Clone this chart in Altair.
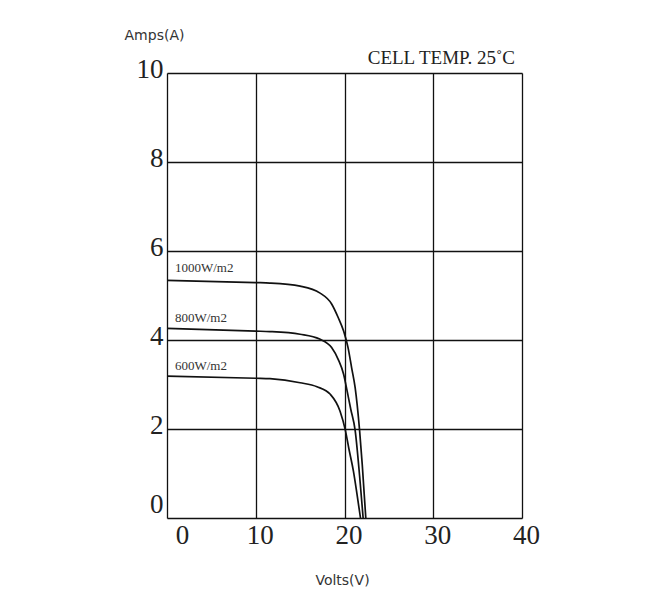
import altair as alt
import pandas as pd

# Curves (Volts, Amps)
v1000 = [0, 10, 11.6, 15.0, 17.2, 18.55, 19.3, 19.9, 20.4, 20.8, 21.2, 21.7, 22.0, 22.4]
i1000 = [5.34, 5.29, 5.28, 5.21, 5.06, 4.81, 4.50, 4.20, 3.83, 3.38, 2.93, 1.97, 1.20, 0]

v800 = [0, 10, 11.6, 15.0, 17.2, 18.55, 19.3, 19.9, 20.3, 20.7, 21.2, 21.7, 22.1]
i800 = [4.26, 4.20, 4.19, 4.13, 4.02, 3.83, 3.56, 3.23, 2.85, 2.45, 1.97, 0.95, 0]

v600 = [0, 10, 11.6, 15.0, 16.9, 18.4, 19.5, 20.1, 20.5, 21.0, 21.4, 21.8]
i600 = [3.19, 3.14, 3.13, 3.04, 2.95, 2.78, 2.40, 1.97, 1.55, 1.06, 0.55, 0]

series_names = ["1000W/m2", "800W/m2", "600W/m2"]
label_x = [0.9, 0.9, 0.9]
label_y = [5.62, 4.49, 3.42]

x_ticks = [0, 10, 20, 30, 40]
y_ticks = [0, 2, 4, 6, 8, 10]
note_text = ["CELL TEMP. 25˚C"]

rows = []
for name, vs, cs in zip(series_names, [v1000, v800, v600], [i1000, i800, i600]):
    for k, (v, c) in enumerate(zip(vs, cs)):
        rows.append({"series": name, "volts": v, "amps": c, "order": k})
df = pd.DataFrame(rows)
labels = pd.DataFrame({"series": series_names, "volts": label_x, "amps": label_y})
note = pd.DataFrame({"t": note_text})

xscale = alt.Scale(domain=[0, 40], nice=False, zero=False)
yscale = alt.Scale(domain=[0, 10], nice=False, zero=False)

x_axis = alt.Axis(
    values=x_ticks, grid=True, gridColor="#111", gridWidth=1.3, gridOpacity=1,
    ticks=False, domain=False, labelFlush=False,
    labelFont="Liberation Serif", labelFontSize=27, labelColor="#222",
    labelPadding=4,
    labelOffset={"condition": {"test": "datum.value === 0", "value": 15}, "value": 4},
    title="Volts(V)", titleFont="DejaVu Sans", titleFontSize=14,
    titleFontWeight="normal", titleColor="#333",
    titleX=175, titleY=62, titleAlign="center", titleBaseline="middle",
)
y_axis = alt.Axis(
    values=y_ticks, grid=True, gridColor="#111", gridWidth=1.3, gridOpacity=1,
    ticks=False, domain=False, labelFlush=False,
    labelFont="Liberation Serif", labelFontSize=27, labelColor="#222",
    labelPadding=4, labelBaseline="middle",
    labelOffset={"condition": {"test": "datum.value === 0", "value": -14}, "value": -4},
    title="Amps(A)", titleFont="DejaVu Sans", titleFontSize=14,
    titleFontWeight="normal", titleColor="#333", titleAngle=0,
    titleX=-13, titleY=-38, titleAlign="center", titleBaseline="middle",
)

lines = alt.Chart(df).mark_line(color="#111", strokeWidth=1.7, interpolate="monotone").encode(
    x=alt.X("volts:Q", scale=xscale, axis=x_axis),
    y=alt.Y("amps:Q", scale=yscale, axis=y_axis),
    detail="series:N",
    order="order:Q",
)

texts = alt.Chart(labels).mark_text(
    font="Liberation Serif", fontSize=13, align="left", baseline="middle", color="#333"
).encode(
    x=alt.X("volts:Q", scale=xscale),
    y=alt.Y("amps:Q", scale=yscale),
    text="series:N",
)

note_mark = alt.Chart(note).mark_text(
    font="Liberation Serif", fontSize=19, align="right", baseline="alphabetic", color="#222"
).encode(
    x=alt.value(348),
    y=alt.value(-9),
    text="t:N",
)

chart = alt.layer(lines, texts, note_mark).properties(
    width=355,
    height=445,
    autosize="none",
    padding={"left": 159, "top": 65, "right": 130, "bottom": 80},
).configure_view(stroke="#111", strokeWidth=1.5).configure(background="white")

chart.save("out.html", embed_options={"renderer": "svg", "actions": False})
